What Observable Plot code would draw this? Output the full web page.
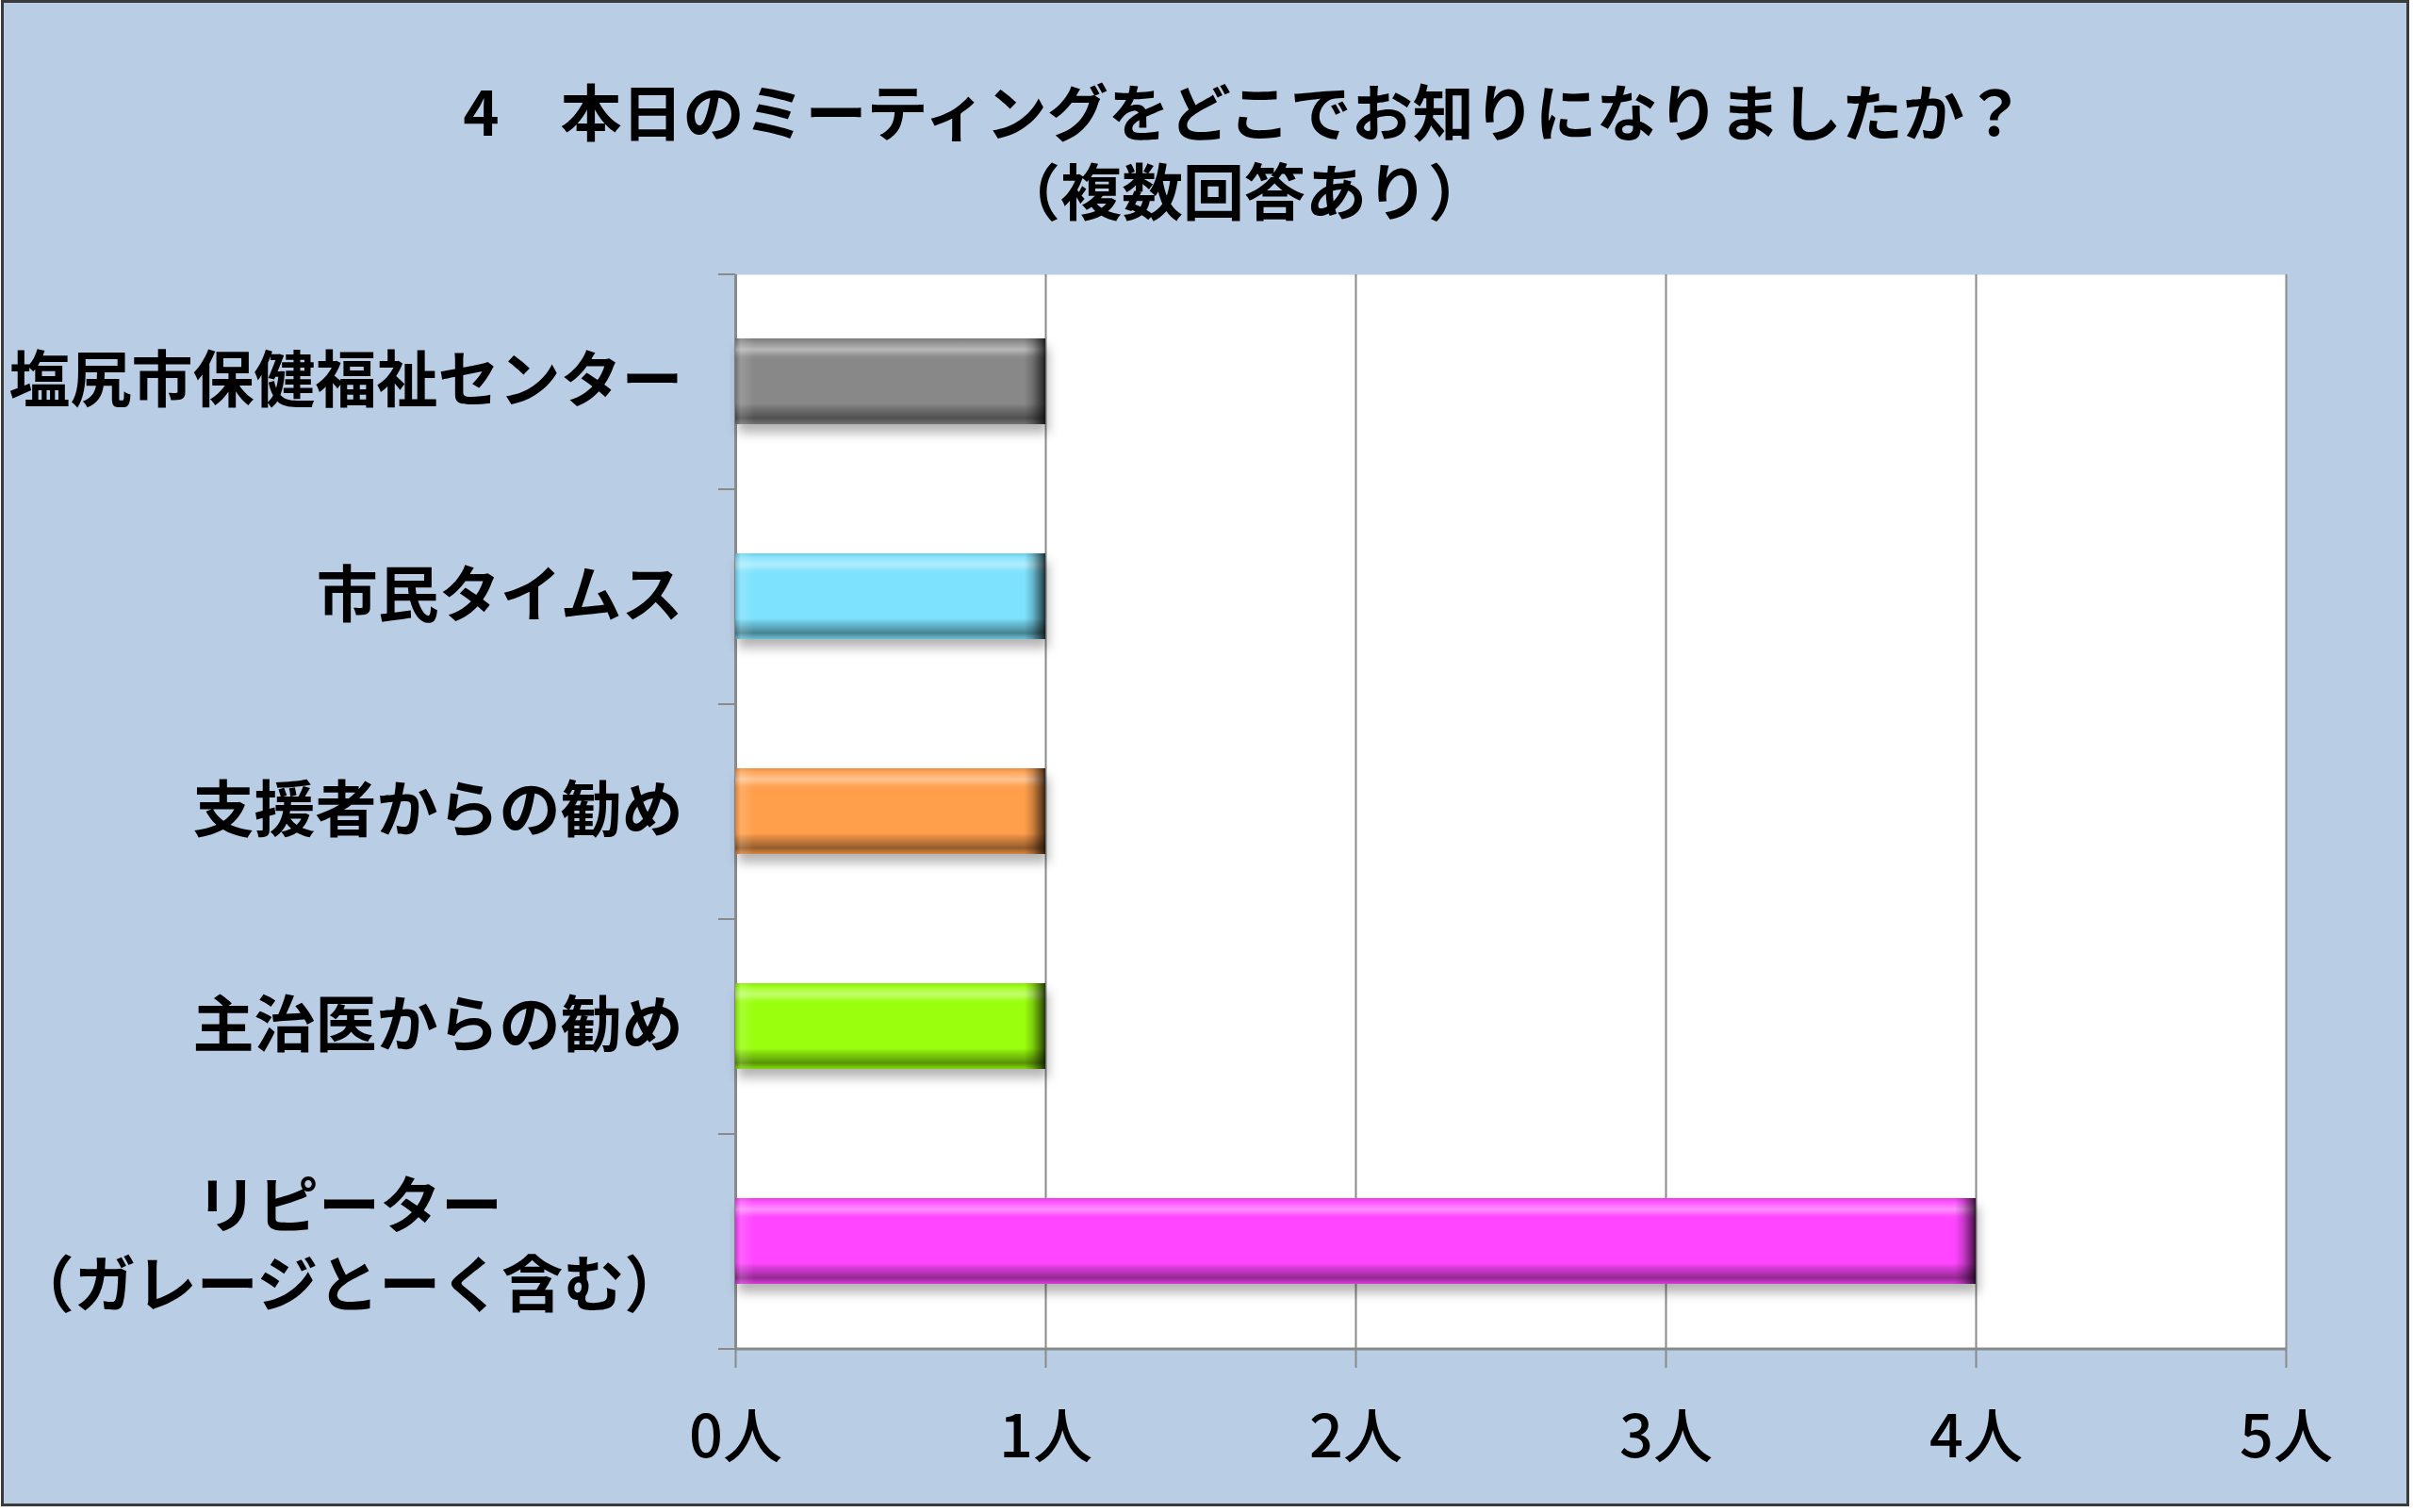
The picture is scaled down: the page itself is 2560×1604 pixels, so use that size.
<!DOCTYPE html>
<html lang="ja">
<head>
<meta charset="utf-8">
<script src="https://cdn.jsdelivr.net/npm/d3@7"></script>
<script src="https://cdn.jsdelivr.net/npm/@observablehq/plot@0.6"></script>
<style>
  html, body { margin: 0; padding: 0; background: #ffffff; }
  #chart {
    position: relative; width: 2560px; height: 1604px; overflow: hidden;
    background: #ffffff;
    font-family: "Noto Sans CJK JP", "Noto Sans", sans-serif;
  }
  #panel {
    position: absolute; left: 1px; top: 0px; width: 2555px; height: 1598px;
    background: #B9CDE5; box-sizing: border-box; border: 3px solid #3a3a3a;
  }
  #title {
    position: absolute; left: 320px; width: 2000px; top: 74px;
    text-align: center; font-size: 65px; font-weight: 700; line-height: 84px; color: #000;
    white-space: nowrap; z-index: 2;
  }
  #plot { position: absolute; left: 0; top: 0; z-index: 1; }
</style>
</head>
<body>
<div id="chart">
  <div id="panel"></div>
  <div id="title">4　本日のミーティングをどこでお知りになりましたか？<br>（複数回答あり）</div>
  <div id="plot"></div>
</div>
<script>
// ---- data ----
const categories = [
  "塩尻市保健福祉センター",
  "市民タイムス",
  "支援者からの勧め",
  "主治医からの勧め",
  "リピーター\n（ガレージとーく含む）"
];
const counts = [1, 1, 1, 1, 4];
const barColors = ["#888888", "#7DE2FD", "#FF9E4C", "#99FF0A", "#FF44FF"];
const xTicks = [0, 1, 2, 3, 4, 5];
const tickSuffix = "人";

const data = categories.map((c, i) => ({category: c, count: counts[i]}));
const lastCat = categories[categories.length - 1];
const halfStep = 114;

const plot = Plot.plot({
  width: 2560,
  height: 1604,
  marginLeft: 780,
  marginRight: 135,
  marginTop: 291,
  marginBottom: 173,
  style: {background: "transparent", fontFamily: "'Noto Sans CJK JP', sans-serif", overflow: "visible"},
  x: {domain: [0, 5], axis: null, label: null},
  y: {domain: categories, axis: null, label: null, paddingInner: 0.6, paddingOuter: 0.3},
  color: {domain: categories, range: barColors},
  marks: [
    Plot.frame({fill: "white", stroke: "none"}),
    Plot.gridX({ticks: xTicks, stroke: "#8a8a8a", strokeOpacity: 1, strokeWidth: 2}),
    // axes lines and ticks
    Plot.ruleX([0], {stroke: "#8a8a8a", strokeWidth: 3}),
    Plot.ruleY([lastCat], {stroke: "#8a8a8a", strokeWidth: 3, dy: halfStep}),
    Plot.ruleY(categories, {x1: 0, x2: 0, insetLeft: -18, stroke: "#8a8a8a", strokeWidth: 2, dy: -halfStep}),
    Plot.ruleY([lastCat], {x1: 0, x2: 0, insetLeft: -18, stroke: "#8a8a8a", strokeWidth: 2, dy: halfStep}),
    Plot.axisX({
      ticks: xTicks, tickFormat: d => d + tickSuffix, tickSize: 20, tickPadding: 50,
      fontSize: 63, fontWeight: 500, stroke: "#8a8a8a", strokeWidth: 2, fill: "black", label: null
    }),
    // bars
    Plot.barX(data, {x1: 0, x2: "count", y: "category", fill: "category"}),
    Plot.barX(data, {x1: 0, x2: "count", y: "category", fill: "url(#vgloss)"}),
    Plot.barX(data, {x1: "count", x2: "count", y: "category", insetLeft: -22, fill: "url(#rcap)"}),
    Plot.barX(data, {x1: 0, x2: 0, y: "category", insetRight: -20, fill: "url(#lcap)"}),
    // category labels
    Plot.text(data.filter(d => !d.category.includes("\n")), {
      y: "category", text: "category", frameAnchor: "left", dx: -56,
      textAnchor: "end", fontSize: 65, fontWeight: 700, fill: "black"
    }),
    Plot.text(data.filter(d => d.category.includes("\n")), {
      y: "category", text: "category", frameAnchor: "left", dx: -410,
      textAnchor: "middle", fontSize: 65, fontWeight: 700, fill: "black", lineHeight: 1.3
    })
  ]
});

// gradients and shadow
const svg = d3.select(plot);
const defs = svg.insert("defs", ":first-child");
const vg = defs.append("linearGradient").attr("id", "vgloss").attr("x1", 0).attr("y1", 0).attr("x2", 0).attr("y2", 1);
[[0, "#000", 0.08], [0.05, "#fff", 0.1], [0.13, "#fff", 0.4], [0.21, "#fff", 0.05], [0.24, "#fff", 0],
 [0.76, "#000", 0], [0.8, "#000", 0.12], [0.93, "#000", 0.42], [1, "#000", 0.15]]
  .forEach(([o, c, a]) => vg.append("stop").attr("offset", o).attr("stop-color", c).attr("stop-opacity", a));
const rc = defs.append("linearGradient").attr("id", "rcap").attr("x1", 0).attr("y1", 0).attr("x2", 1).attr("y2", 0);
[[0, "#000", 0], [0.4, "#000", 0.2], [0.85, "#000", 0.6], [1, "#000", 0.8]]
  .forEach(([o, c, a]) => rc.append("stop").attr("offset", o).attr("stop-color", c).attr("stop-opacity", a));
const lc = defs.append("linearGradient").attr("id", "lcap").attr("x1", 0).attr("y1", 0).attr("x2", 1).attr("y2", 0);
[[0, "#000", 0.2], [0.3, "#fff", 0.15], [1, "#fff", 0]]
  .forEach(([o, c, a]) => lc.append("stop").attr("offset", o).attr("stop-color", c).attr("stop-opacity", a));
const f = defs.append("filter").attr("id", "shadow").attr("x", "-10%").attr("y", "-30%").attr("width", "130%").attr("height", "180%");
f.append("feDropShadow").attr("dx", 3).attr("dy", 9).attr("stdDeviation", 6).attr("flood-color", "#000").attr("flood-opacity", 0.3);
const barGroups = svg.selectAll('g[aria-label="bar"]').nodes();
if (barGroups.length) d3.select(barGroups[0]).attr("filter", "url(#shadow)");

document.getElementById("plot").appendChild(plot);
</script>
</body>
</html>
